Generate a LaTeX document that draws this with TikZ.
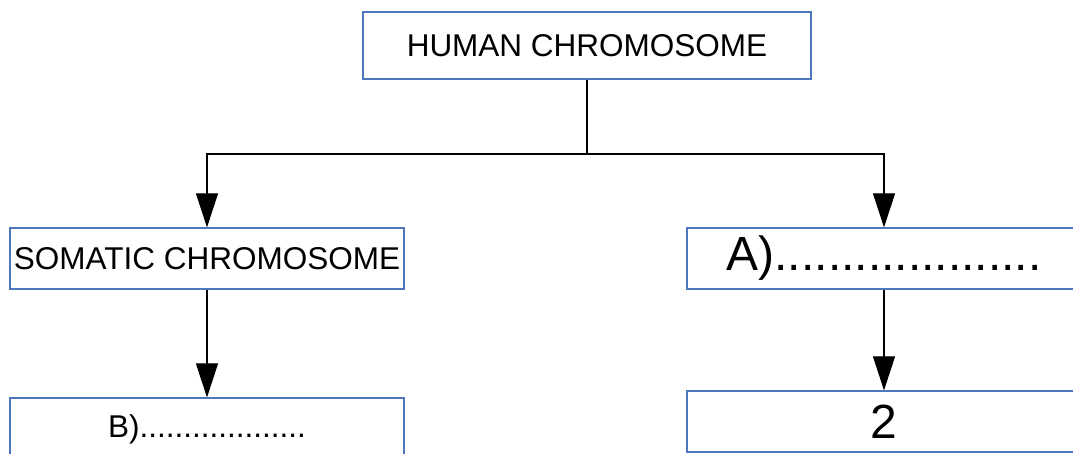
\documentclass[tikz,border=0pt]{standalone}
\usepackage{fontspec}
\setmainfont{Liberation Sans}
\usetikzlibrary{arrows.meta}
\definecolor{boxblue}{RGB}{79,119,190}
\tikzset{
  box/.style={draw=boxblue, line width=1.2pt, rectangle, inner sep=0pt, anchor=center},
  conn/.style={draw=black, line width=1.1pt},
  arr/.style={conn, -{Triangle[length=34pt,width=22pt]}},
  midtext/.style={font=\fontsize{31.5}{36}\selectfont},
  bigtext/.style={font=\fontsize{48}{54}\selectfont}
}
\begin{document}
\begin{tikzpicture}[x=1pt,y=-1pt]
\useasboundingbox (0,0) rectangle (1073,453);
\clip (0,0) rectangle (1073,453);
\node[box, midtext, minimum width=448pt, minimum height=67pt] (top) at (587,45.5) {HUMAN CHROMOSOME};
\node[box, midtext, minimum width=394pt, minimum height=61pt] (som) at (207,258.5) {SOMATIC CHROMOSOME};
\node[box, bigtext, minimum width=394pt, minimum height=61pt] (a) at (884,258.5) {A)....................};
\node[box, midtext, minimum width=394pt, minimum height=62pt] (b) at (207,429) {B)...................};
\node[box, bigtext, minimum width=394pt, minimum height=61pt] (two) at (884,421.5) {2};
\coordinate (j) at (587,154);
\draw[conn] (top.south) -- (j);
\draw[arr] (j) -| (som.north);
\draw[arr] (j) -| (a.north);
\draw[arr] (som.south) -- (b.north);
\draw[arr] (a.south) -- (two.north);
\end{tikzpicture}
\end{document}
